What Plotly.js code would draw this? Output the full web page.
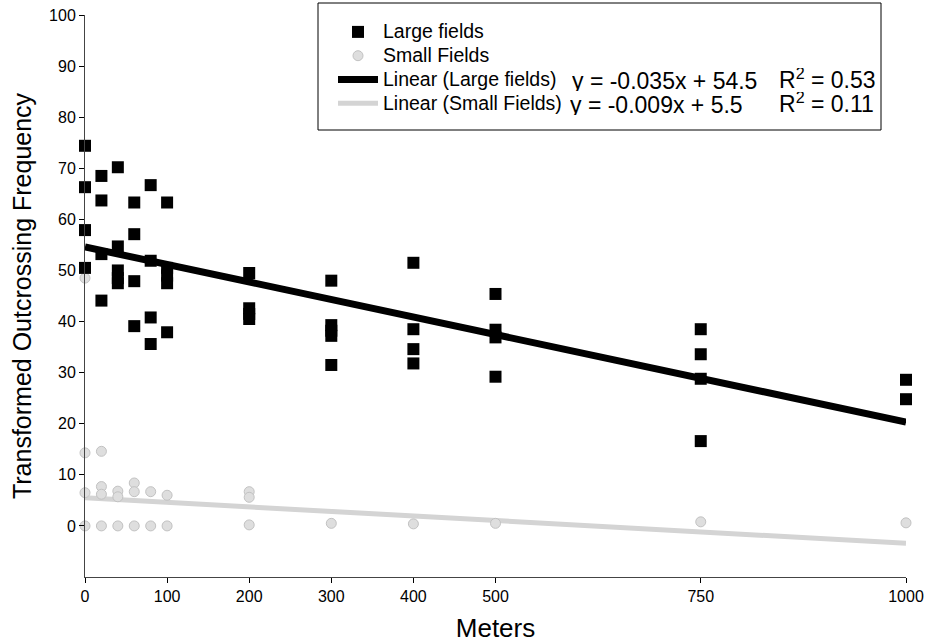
<!DOCTYPE html>
<html>
<head>
<meta charset="utf-8">
<script src="https://cdn.plot.ly/plotly-3.0.1.min.js"></script>
<style>
  html, body { margin: 0; padding: 0; background: #fff; }
  #chart { width: 939px; height: 643px; }
</style>
</head>
<body>
<div id="chart"></div>
<script>
// ---- Data ----
const largeX = [0, 0, 0, 0,
                20, 20, 20, 20,
                40, 40, 40, 40, 40,
                60, 60, 60, 60,
                80, 80, 80, 80,
                100, 100, 100, 100, 100,
                200, 200, 200, 200,
                300, 300, 300, 300, 300,
                400, 400, 400, 400,
                500, 500, 500, 500,
                750, 750, 750, 750,
                1000, 1000];
const largeY = [74.4, 66.3, 57.9, 50.5,
                68.5, 63.7, 53.2, 44.1,
                70.2, 54.7, 50.0, 48.5, 47.5,
                63.3, 57.1, 47.9, 39.1,
                66.7, 51.9, 40.8, 35.6,
                63.3, 50.5, 49.0, 47.5, 37.9,
                49.5, 42.6, 41.5, 40.5,
                48.0, 39.3, 38.2, 37.2, 31.5,
                51.5, 38.5, 34.6, 31.8,
                45.4, 38.4, 36.9, 29.2,
                38.5, 33.6, 28.8, 16.6,
                28.6, 24.8];

const smallX = [0, 0, 0, 0,
                20, 20, 20, 20,
                40, 40, 40,
                60, 60, 60,
                80, 80,
                100, 100,
                200, 200, 200,
                300, 400, 500, 750, 1000];
const smallY = [48.5, 14.3, 6.5, 0,
                14.6, 7.7, 6.2, 0,
                6.8, 5.7, 0,
                8.4, 6.7, 0,
                6.7, 0,
                6.0, 0,
                6.7, 5.6, 0.2,
                0.5, 0.4, 0.5, 0.8, 0.6];

const trendX = [0, 1000];
const largeTrendY = [54.6, 20.3];
const smallTrendY = [5.5, -3.4];

const xTickVals = [0, 100, 200, 300, 400, 500, 750, 1000];
const xTickText = ['0', '100', '200', '300', '400', '500', '750', '1000'];
const yTickVals = [0, 10, 20, 30, 40, 50, 60, 70, 80, 90, 100];
const yTickText = ['0', '10', '20', '30', '40', '50', '60', '70', '80', '90', '100'];

const legendNames = ['Large fields', 'Small Fields', 'Linear (Large fields)', 'Linear (Small Fields)'];
const eqLarge = 'y = -0.035x + 54.5';
const eqSmall = 'y = -0.009x + 5.5';
const r2Large = 'R<sup>2</sup> = 0.53';
const r2Small = 'R<sup>2</sup> = 0.11';

// ---- Traces ----
const FONT = 'Liberation Sans, Arial, Helvetica, sans-serif';
const big = s => '<span style="font-size:19.5px">' + s + '</span>';

const traces = [
  {
    x: largeX, y: largeY, type: 'scatter', mode: 'markers',
    name: big(legendNames[0]), legendrank: 1, cliponaxis: false,
    marker: { symbol: 'square', size: 12, color: '#000' }
  },
  {
    x: smallX, y: smallY, type: 'scatter', mode: 'markers',
    name: big(legendNames[1]), legendrank: 2, cliponaxis: false,
    marker: { symbol: 'circle', size: 10, color: '#dedede', line: { color: '#c2c2c2', width: 1 } }
  },
  {
    x: trendX, y: largeTrendY, type: 'scatter', mode: 'lines',
    name: big(legendNames[2]), legendrank: 3, cliponaxis: false,
    line: { color: '#000', width: 7 }
  },
  {
    x: trendX, y: smallTrendY, type: 'scatter', mode: 'lines',
    name: big(legendNames[3]), legendrank: 4, cliponaxis: false,
    line: { color: '#d4d4d4', width: 5 }
  }
];

const ordered = [traces[3], traces[1], traces[2], traces[0]];

const W = 939, H = 643;
const M = { l: 85, r: 33, t: 15, b: 66 };
const PW = W - M.l - M.r, PH = H - M.t - M.b;
const px = v => (v - M.l) / PW;       // pixel x -> paper
const py = v => (H - M.b - v) / PH;   // pixel y -> paper

const eqFont = { family: FONT, size: 23, color: '#000' };
const eqAnn = (text, xPix, yPix) => ({
  xref: 'paper', yref: 'paper', x: px(xPix), y: py(yPix),
  xanchor: 'left', yanchor: 'middle', height: 21,
  text: text, showarrow: false, font: eqFont
});

const layout = {
  width: W, height: H,
  margin: M,
  paper_bgcolor: '#fff', plot_bgcolor: '#fff',
  font: { family: FONT, color: '#000', size: 16 },
  showlegend: true,
  legend: {
    x: px(333), y: py(15), xanchor: 'left', yanchor: 'top',
    bgcolor: 'rgba(0,0,0,0)', borderwidth: 0,
    font: { family: FONT, size: 16, color: '#000' },
    itemwidth: 40, tracegroupgap: 0,
    traceorder: 'normal'
  },
  xaxis: {
    range: [0, 1000], tickmode: 'array', tickvals: xTickVals, ticktext: xTickText,
    ticks: 'outside', ticklen: 5, tickcolor: '#000', tickwidth: 1,
    showline: true, linecolor: '#444', linewidth: 1,
    showgrid: false, zeroline: false,
    tickfont: { family: FONT, size: 16, color: '#000' },
    title: { text: 'Meters', font: { family: FONT, size: 26, color: '#000' }, standoff: 14 }
  },
  yaxis: {
    range: [-10, 100], tickmode: 'array', tickvals: yTickVals, ticktext: yTickText,
    ticks: 'outside', ticklen: 5, tickcolor: '#000', tickwidth: 1,
    showline: true, linecolor: '#444', linewidth: 1,
    showgrid: false, zeroline: false,
    tickfont: { family: FONT, size: 16, color: '#000' },
    title: { text: 'Transformed Outcrossing Frequency', font: { family: FONT, size: 25, color: '#000' }, standoff: 10 }
  },
  shapes: [
    {
      type: 'rect', xref: 'paper', yref: 'paper',
      x0: px(318), x1: px(881), y0: py(130), y1: py(3),
      line: { color: '#000', width: 1 }, fillcolor: 'rgba(0,0,0,0)', layer: 'above'
    }
  ],
  annotations: [
    eqAnn(eqLarge, 570, 80),
    eqAnn(r2Large, 777, 78),
    eqAnn(eqSmall, 568, 104),
    eqAnn(r2Small, 777, 102)
  ]
};

Plotly.newPlot('chart', ordered, layout, { displayModeBar: false, staticPlot: true });
</script>
</body>
</html>
